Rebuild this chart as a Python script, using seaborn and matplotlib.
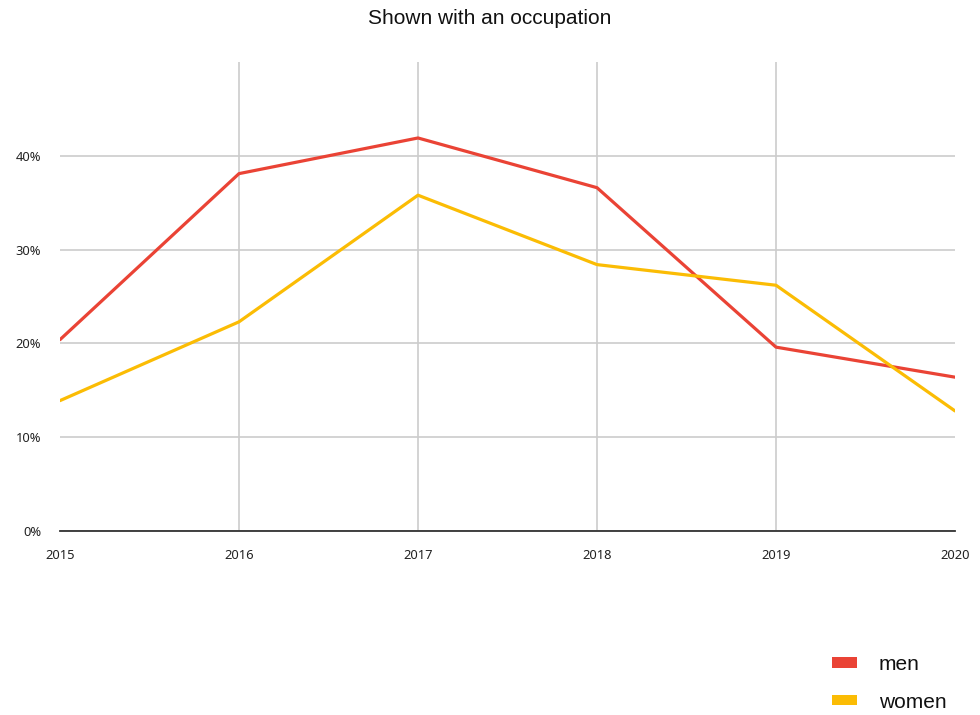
import matplotlib
matplotlib.use("Agg")
import matplotlib.pyplot as plt
import seaborn as sns
import pandas as pd
from matplotlib.patches import Patch
from matplotlib.ticker import FuncFormatter

years = [2015, 2016, 2017, 2018, 2019, 2020]
men = [20.4, 38.1, 41.9, 36.6, 19.6, 16.4]
women = [13.9, 22.3, 35.8, 28.4, 26.2, 12.8]
series_names = ["men", "women"]
colors = {"men": "#EA4335", "women": "#FBBC04"}
y_ticks = [0, 10, 20, 30, 40]

df = pd.DataFrame({
    "year": years * 2,
    "value": men + women,
    "group": ["men"] * len(years) + ["women"] * len(years),
})

sns.set_style("white")
plt.rcParams["font.family"] = ["Noto Sans", "DejaVu Sans"]

fig = plt.figure(figsize=(9.8, 7.15), dpi=100)
ax = fig.add_axes([60 / 980, (715 - 531) / 715, (955 - 60) / 980, (531 - 62) / 715])

sns.lineplot(data=df, x="year", y="value", hue="group", palette=colors,
             linewidth=2.3, ax=ax, legend=False, zorder=3)

ax.set_xlim(2015, 2020)
ax.set_ylim(0, 50)
ax.set_xticks(years)
ax.set_yticks(y_ticks)
ax.yaxis.set_major_formatter(FuncFormatter(lambda v, p: f"{int(v)}%"))
ax.grid(True, color="#cccccc", linewidth=1.2, zorder=0)
ax.set_axisbelow(True)
xgl = ax.xaxis.get_gridlines()
xgl[0].set_visible(False)
xgl[-1].set_visible(False)
for s in ["top", "right", "left"]:
    ax.spines[s].set_visible(False)
ax.spines["bottom"].set_color("#333333")
ax.spines["bottom"].set_linewidth(1.3)
ax.spines["bottom"].set_zorder(4)
ax.tick_params(axis="both", length=0, labelsize=9.3, colors="#222222")
ax.tick_params(axis="x", pad=13)
ax.tick_params(axis="y", pad=13.5)
ax.set_xlabel("")
ax.set_ylabel("")

fig.text(490 / 980, 1 - 19 / 715, "Shown with an occupation", ha="center", va="center",
         fontsize=15, family=["Liberation Sans", "DejaVu Sans"], color="#111111")

handles = [Patch(facecolor=colors[n], edgecolor="none", label=n) for n in series_names]
leg = fig.legend(handles=handles, loc="upper left", bbox_to_anchor=(832 / 980, 1 - 655 / 715),
                 frameon=False, borderpad=0, borderaxespad=0,
                 handlelength=1.2, handleheight=0.38, handletextpad=1.05,
                 labelspacing=0.9, prop={"family": ["Liberation Sans", "DejaVu Sans"], "size": 15})
for t in leg.get_texts():
    t.set_color("#111111")

fig.savefig("out.png", dpi=100)
